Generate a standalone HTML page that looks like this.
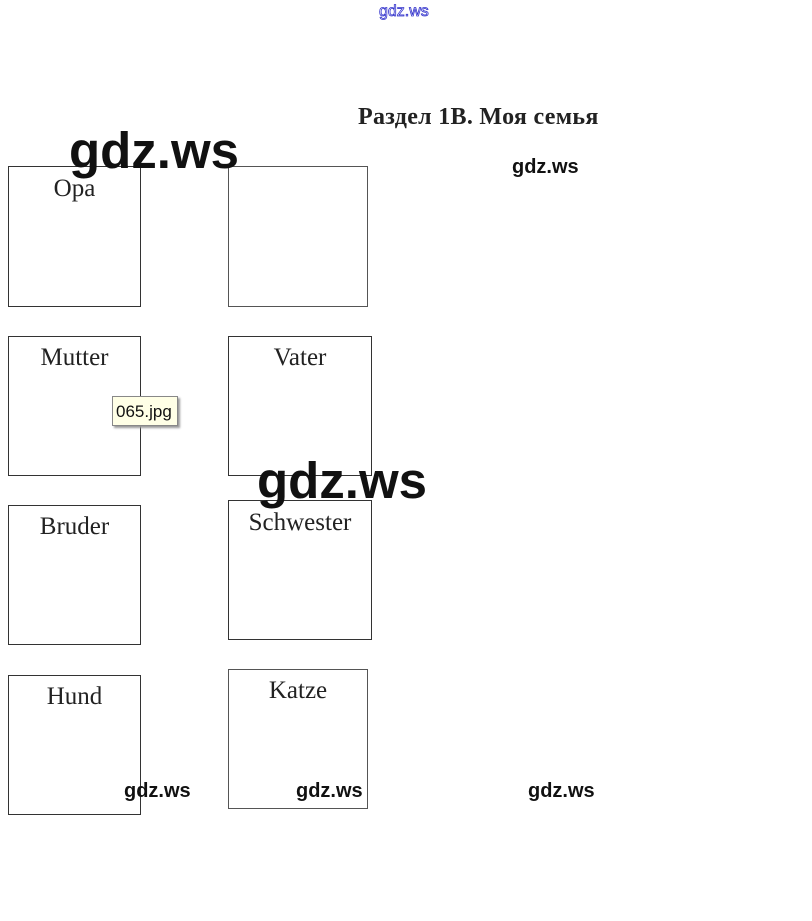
<!DOCTYPE html>
<html><head><meta charset="utf-8"><style>
html,body{margin:0;padding:0;background:#fff;width:812px;height:921px;overflow:hidden;position:relative;font-family:"Liberation Sans",sans-serif}
.b{position:absolute;border:1px solid #333;box-sizing:border-box}
.l{position:absolute;font-family:"Liberation Serif",serif;font-size:25px;color:#222;text-align:center;width:100%;left:0}
.w{position:absolute;font-weight:bold;color:#111;white-space:nowrap}
.s{font-size:20px}
.big{font-size:51px}
</style></head><body>
<div class="w" style="left:379px;top:3px;font-size:16px;font-weight:normal;color:#fff;-webkit-text-stroke:0.8px #3333cc">gdz.ws</div>
<div style="position:absolute;left:358px;top:104px;font-family:'Liberation Serif',serif;font-weight:bold;font-size:24px;letter-spacing:0.3px;color:#222;white-space:nowrap">Раздел 1В. Моя семья</div>

<div class="b" style="left:8px;top:166px;width:133px;height:141px"><div class="l" style="top:8px">Opa</div></div>
<div class="b" style="left:228px;top:166px;width:140px;height:141px;border-color:#555"></div>
<div class="b" style="left:8px;top:336px;width:133px;height:140px"><div class="l" style="top:7px">Mutter</div></div>
<div class="b" style="left:228px;top:336px;width:144px;height:140px"><div class="l" style="top:7px">Vater</div></div>
<div class="b" style="left:8px;top:505px;width:133px;height:140px"><div class="l" style="top:7px">Bruder</div></div>
<div class="b" style="left:228px;top:500px;width:144px;height:140px"><div class="l" style="top:8px">Schwester</div></div>
<div class="b" style="left:8px;top:675px;width:133px;height:140px"><div class="l" style="top:7px">Hund</div></div>
<div class="b" style="left:228px;top:669px;width:140px;height:140px;border-color:#555"><div class="l" style="top:7px">Katze</div></div>

<div style="position:absolute;left:112px;top:396px;width:66px;height:30px;background:#ffffe6;border:1px solid #888;box-shadow:2px 2px 2px #999;box-sizing:border-box;font-size:17px;line-height:29px;padding-left:3px;color:#111">065.jpg</div>

<div class="w big" style="left:69px;top:121px">gdz.ws</div>
<div class="w big" style="left:257px;top:451px">gdz.ws</div>
<div class="w s" style="left:512px;top:156px">gdz.ws</div>
<div class="w s" style="left:124px;top:780px">gdz.ws</div>
<div class="w s" style="left:296px;top:780px">gdz.ws</div>
<div class="w s" style="left:528px;top:780px">gdz.ws</div>
</body></html>
